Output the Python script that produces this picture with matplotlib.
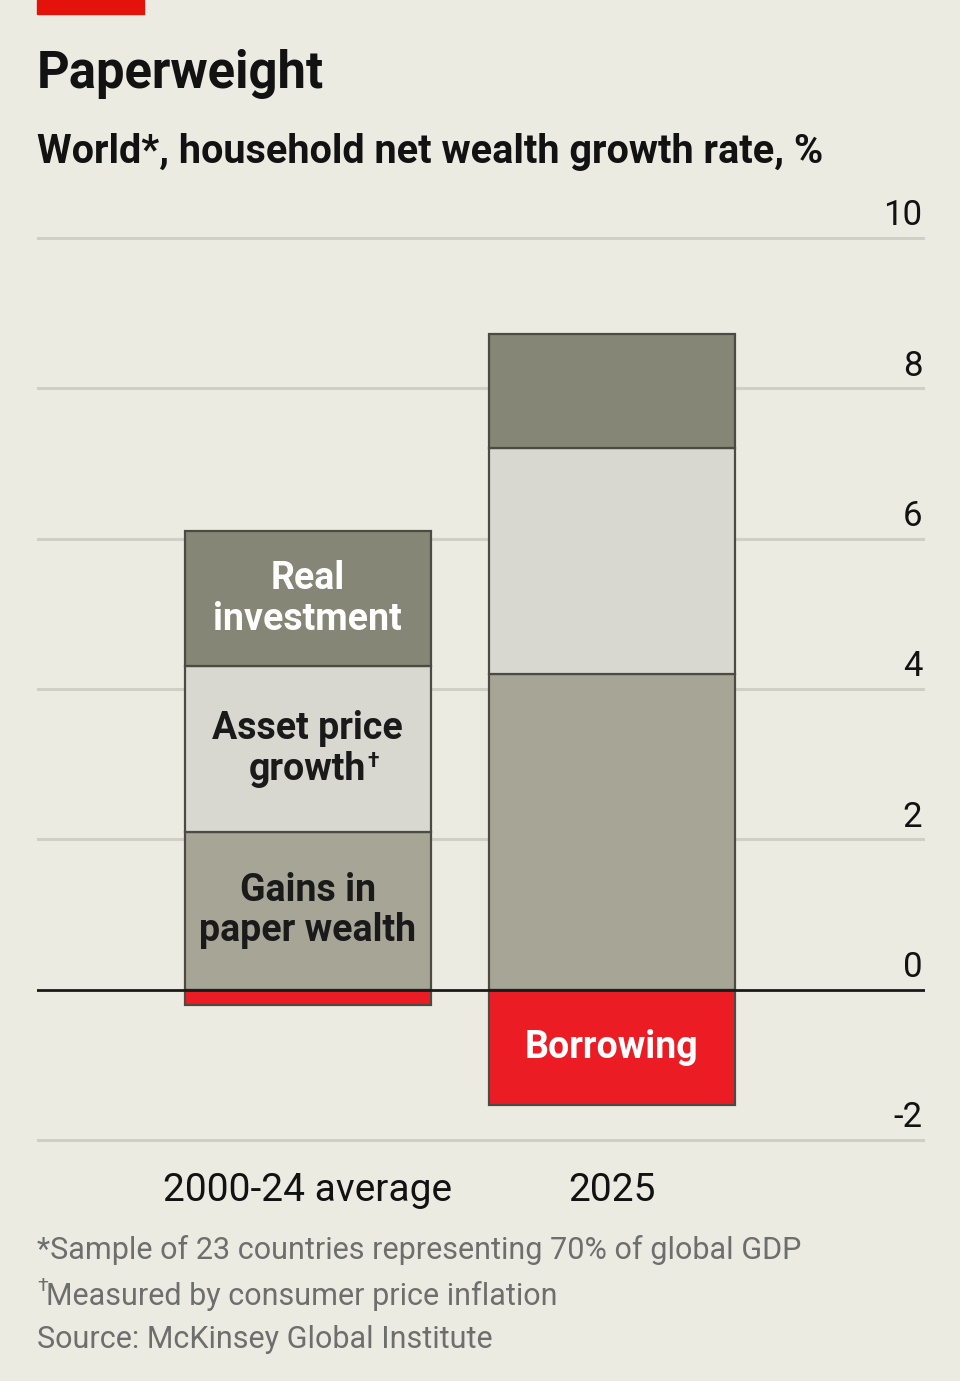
import matplotlib
matplotlib.use("Agg")
import matplotlib.pyplot as plt
import matplotlib.patches as patches
import matplotlib.transforms as mtransforms

plt.rcParams['font.family'] = ['Roboto', 'DejaVu Sans']

categories = ["2000-24 average", "2025"]
gains = [2.1, 4.2]
asset = [2.2, 3.0]
real = [1.8, 1.52]
borrowing = [-0.2, -1.53]
yticks = [-2, 0, 2, 4, 6, 8, 10]

bg = "#ecebe2"
c_gains = "#a6a596"
c_asset = "#d8d8d0"
c_real = "#868676"
c_borrow = "#ec1c24"
edge = "#4b4b44"


def main():
    fig = plt.figure(figsize=(9.6, 13.81), dpi=100)
    fig.patch.set_facecolor(bg)

    # red tag at top
    fig.patches.append(patches.Rectangle((37 / 960, 1 - 14 / 1381), 107 / 960, 14 / 1381,
                                         transform=fig.transFigure, color="#e3120b", zorder=5))

    fig.text(37 / 960, 1 - 74 / 1381, "Paperweight", fontsize=36.5, fontweight="bold",
             color="#121212", va="center", ha="left")
    fig.text(37 / 960, 1 - 152 / 1381, "World*, household net wealth growth rate, %",
             fontsize=28.5, fontweight="bold", color="#121212", va="center", ha="left")

    top_px, bot_px = 232, 1145.25
    ax = fig.add_axes([37 / 960, (1381 - bot_px) / 1381, 888 / 960, (bot_px - top_px) / 1381])
    ax.set_facecolor(bg)
    ax.set_ylim(-2.07, 10.08)
    ax.set_xlim(-0.891, 2.03)

    x = range(len(categories))
    w = 0.809
    kw = dict(width=w, edgecolor=edge, linewidth=1.6, zorder=3)
    ax.bar(x, gains, color=c_gains, **kw)
    ax.bar(x, asset, bottom=gains, color=c_asset, **kw)
    bottoms3 = [g + a for g, a in zip(gains, asset)]
    ax.bar(x, real, bottom=bottoms3, color=c_real, **kw)
    ax.bar(x, borrowing, color=c_borrow, **kw)

    for t in yticks:
        if t != 0:
            ax.axhline(t, color="#d0cfc6", linewidth=2.2, zorder=1)
    ax.axhline(0, color="#1a1a1a", linewidth=2, zorder=4)

    tr = mtransforms.blended_transform_factory(ax.transAxes, ax.transData)
    for t in yticks:
        ax.annotate(str(t), (0.997, t), xycoords=tr, xytext=(0, 4), textcoords="offset points",
                    ha="right", va="bottom", fontsize=25, color="#121212")

    # segment labels on the first bar
    lab = dict(ha="center", va="center", fontsize=27, fontweight="bold", linespacing=1.12, zorder=5)
    ax.text(0, gains[0] + asset[0] + real[0] / 2, "Real\ninvestment", color="white", **lab)
    mid = gains[0] + asset[0] / 2
    ax.annotate("Asset price", (0, mid), xytext=(0, 14.5), textcoords="offset points",
                color="#1a1a1a", **lab)
    g = ax.annotate("growth", (0, mid), xytext=(0, -14.5), textcoords="offset points",
                    color="#1a1a1a", **lab)
    ax.annotate("\u2020", xy=(1, 1), xycoords=g, xytext=(0.5, -1), textcoords="offset points",
                ha="left", va="top", fontsize=15, fontweight="bold", color="#1a1a1a", zorder=5)
    ax.text(0, gains[0] / 2, "Gains in\npaper wealth", color="#1a1a1a", **lab)
    ax.text(1, borrowing[1] / 2, "Borrowing", color="white", **lab)

    ax.set_xticks(list(x))
    ax.set_xticklabels(categories, fontsize=28, color="#121212")
    ax.tick_params(axis="x", length=0, pad=19)
    ax.set_yticks([])
    for s in ax.spines.values():
        s.set_visible(False)

    foot = dict(fontsize=22, color="#6e6e6e", va="center", ha="left")
    fig.text(37 / 960, 1 - 1250 / 1381, "*Sample of 23 countries representing 70% of global GDP", **foot)
    fig.text(37 / 960, 1 - 1286 / 1381, "\u2020", fontsize=14, color="#6e6e6e", va="center", ha="left")
    fig.text(46 / 960, 1 - 1296 / 1381, "Measured by consumer price inflation", **foot)
    fig.text(37 / 960, 1 - 1340 / 1381, "Source: McKinsey Global Institute", **foot)

    fig.savefig("out.png", dpi=100, facecolor=bg)


if __name__ == '__main__':
    main()
